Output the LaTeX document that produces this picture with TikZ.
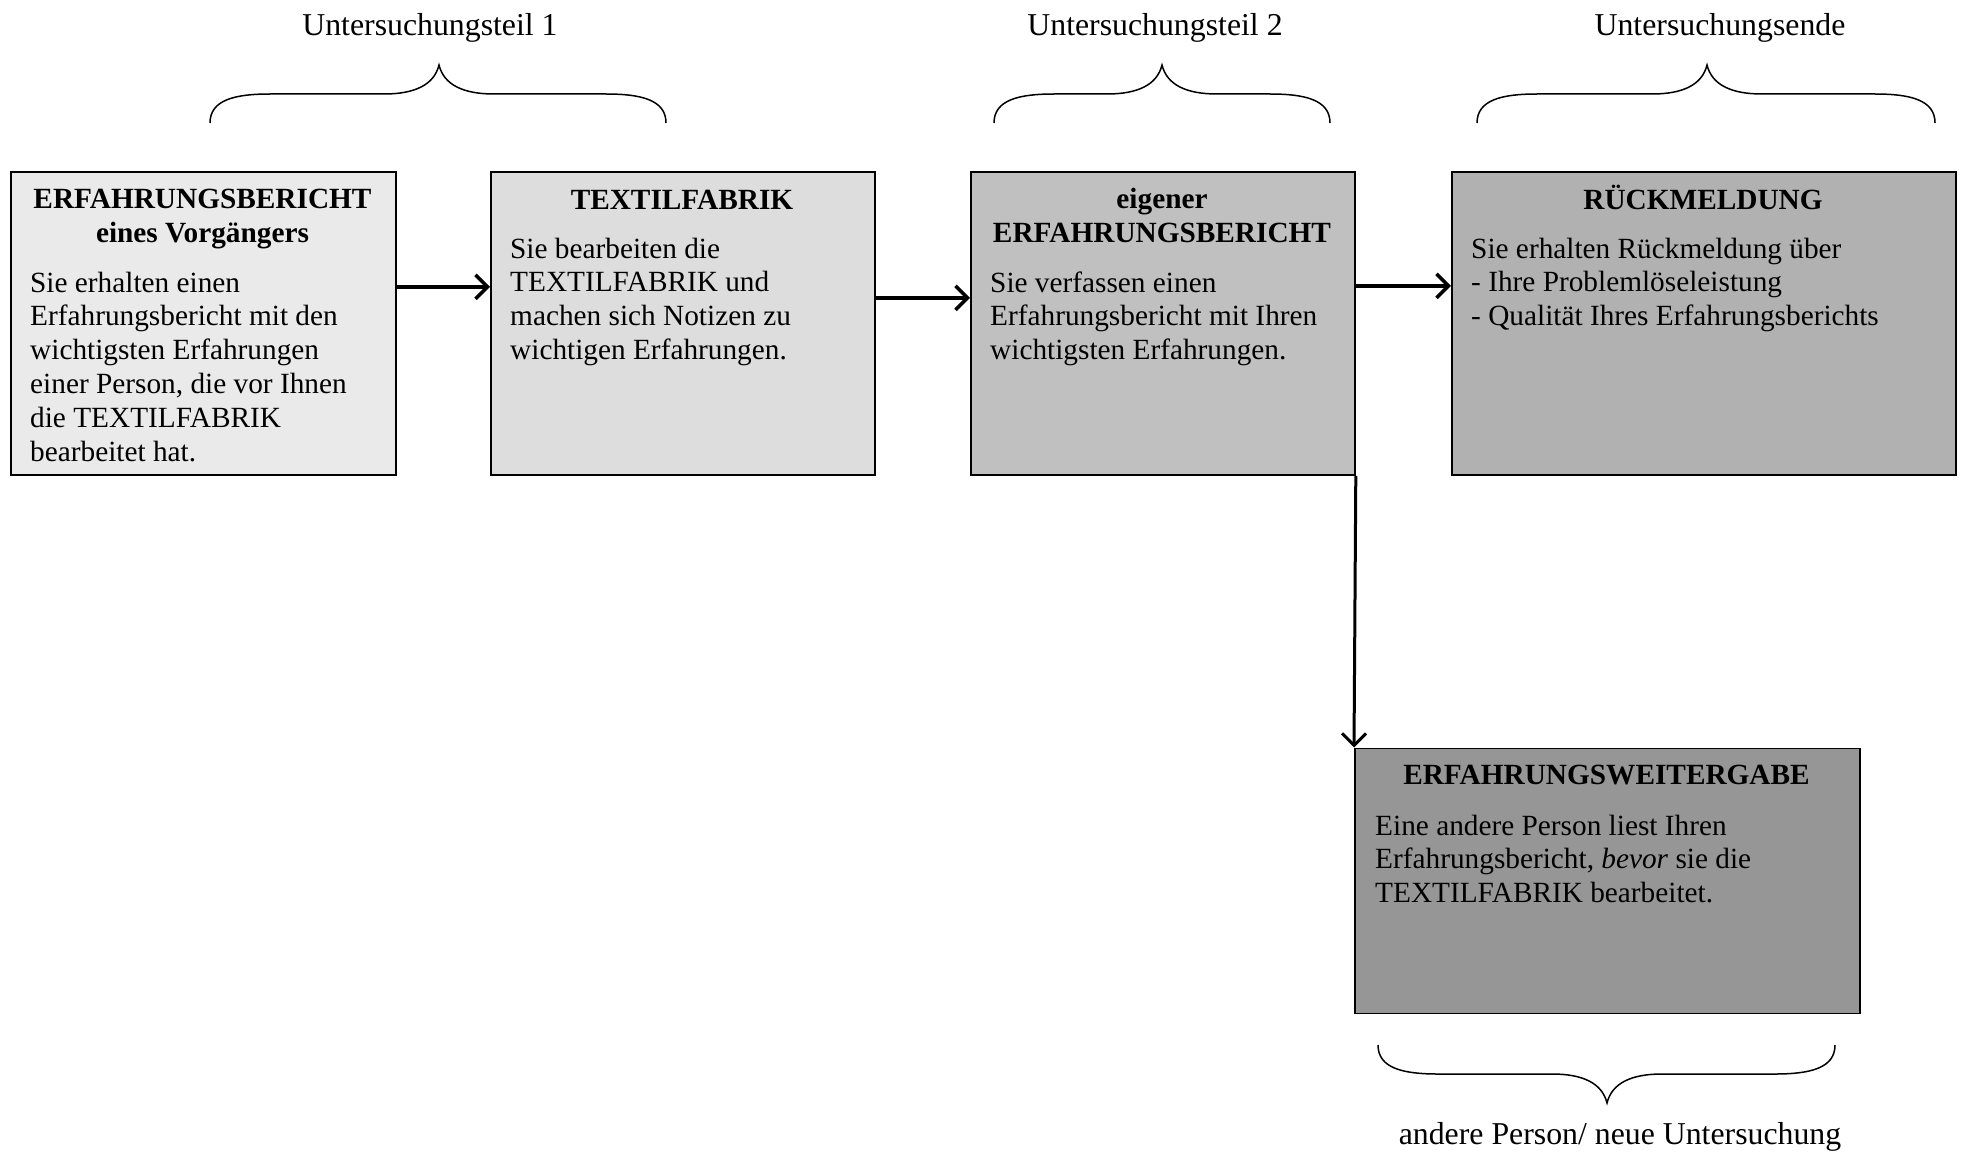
\documentclass[tikz,border=0pt]{standalone}
\usepackage{fontspec}
\setmainfont{Liberation Serif}
\usetikzlibrary{arrows.meta}
\definecolor{cA}{HTML}{EAEAEA}
\definecolor{cB}{HTML}{DDDDDD}
\definecolor{cC}{HTML}{C0C0C0}
\definecolor{cD}{HTML}{B1B1B1}
\definecolor{cE}{HTML}{969696}
\newcommand\mybrace[6]{%
\draw[brc] (#1,#4) .. controls (#1,{#4+0.8*(#5-#4)}) and (#1+25,#5) .. (#1+60,#5)
 -- (#2-55,#5) .. controls (#2-25,#5) and (#2-5,{#5+0.3*(#6-#5)}) .. (#2,#6)
 .. controls (#2+5,{#5+0.3*(#6-#5)}) and (#2+25,#5) .. (#2+55,#5)
 -- (#3-60,#5) .. controls (#3-25,#5) and (#3,{#4+0.8*(#5-#4)}) .. (#3,#4);}
\begin{document}
\begin{tikzpicture}[x=1pt,y=-1pt,
 box/.style={draw=black, line width=1.8pt, inner sep=0pt, anchor=north west},
 ttl/.style={font=\fontsize{29.3}{33.8}\selectfont\bfseries, inner sep=0pt, align=center, anchor=base},
 body/.style={font=\fontsize{29.3}{33.8}\selectfont, inner sep=0pt, align=left, anchor=base west},
 lbl/.style={font=\fontsize{31.8}{36}\selectfont, inner sep=0pt, anchor=base},
 arr/.style={line width=3.5pt, -{Straight Barb[length=12pt,width=24pt]}},
 brc/.style={line width=1.5pt}]
\fill[white] (0,0) rectangle (1961,1153);
\useasboundingbox (0,0) rectangle (1961,1153);

% boxes
\node[box, fill=cA, minimum width=385pt, minimum height=303pt] (b1) at (10,171) {};
\node[box, fill=cB, minimum width=384pt, minimum height=303pt] (b2) at (490,171) {};
\node[box, fill=cC, minimum width=384pt, minimum height=303pt] (b3) at (970,171) {};
\node[box, fill=cD, minimum width=504pt, minimum height=303pt] (b4) at (1451,171) {};
\node[box, fill=cE, minimum width=505pt, minimum height=265pt] (b5) at (1354,747.5) {};

% titles (anchor base = baseline of last line)
\node[ttl] (t1) at (202.5,242) {ERFAHRUNGSBERICHT\\eines Vorgängers};
\node[ttl] (t2) at (682,209) {TEXTILFABRIK};
\node[ttl] (t3) at (1162,242) {eigener\\ERFAHRUNGSBERICHT};
\node[ttl] (t4) at (1703,209) {RÜCKMELDUNG};
\node[ttl] (t5) at (1606.5,784) {ERFAHRUNGSWEITERGABE};

% bodies (anchor base = baseline of last line)
\node[body] (d1) at (30,461) {Sie erhalten einen\\Erfahrungsbericht mit den\\wichtigsten Erfahrungen\\einer Person, die vor Ihnen\\die TEXTILFABRIK\\bearbeitet hat.};
\node[body] (d2) at (510,359.4) {Sie bearbeiten die\\TEXTILFABRIK und\\machen sich Notizen zu\\wichtigen Erfahrungen.};
\node[body] (d3) at (990,359.6) {Sie verfassen einen\\Erfahrungsbericht mit Ihren\\wichtigsten Erfahrungen.};
\node[body] (d4) at (1471,325.6) {Sie erhalten Rückmeldung über\\- Ihre Problemlöseleistung\\- Qualität Ihres Erfahrungsberichts};
\node[body] (d5) at (1375,902.6) {Eine andere Person liest Ihren\\Erfahrungsbericht, \textit{bevor} sie die\\TEXTILFABRIK bearbeitet.};

% labels
\node[lbl] (l1) at (430,36) {Untersuchungsteil 1};
\node[lbl] (l2) at (1155,36) {Untersuchungsteil 2};
\node[lbl] (l3) at (1720,36) {Untersuchungsende};
\node[lbl] (l4) at (1620,1144) {andere Person/ neue Untersuchung};

% braces
\mybrace{210}{439}{666}{123}{94}{65}
\mybrace{994}{1162}{1330}{123}{94}{65}
\mybrace{1477}{1707}{1935}{123}{94}{65}
\mybrace{1378}{1607}{1835}{1045}{1074}{1103}

% arrows
\draw[arr] ([yshift=36.5pt]b1.east) -- ([yshift=36.5pt]b2.west);
\draw[arr] ([yshift=25.5pt]b2.east) -- ([yshift=25.5pt]b3.west);
\draw[arr] ([yshift=37.5pt]b3.east) -- ([yshift=37.5pt]b4.west);
\draw[arr, line width=3pt] (b3.south east) -- (b5.north west);
\end{tikzpicture}
\end{document}
